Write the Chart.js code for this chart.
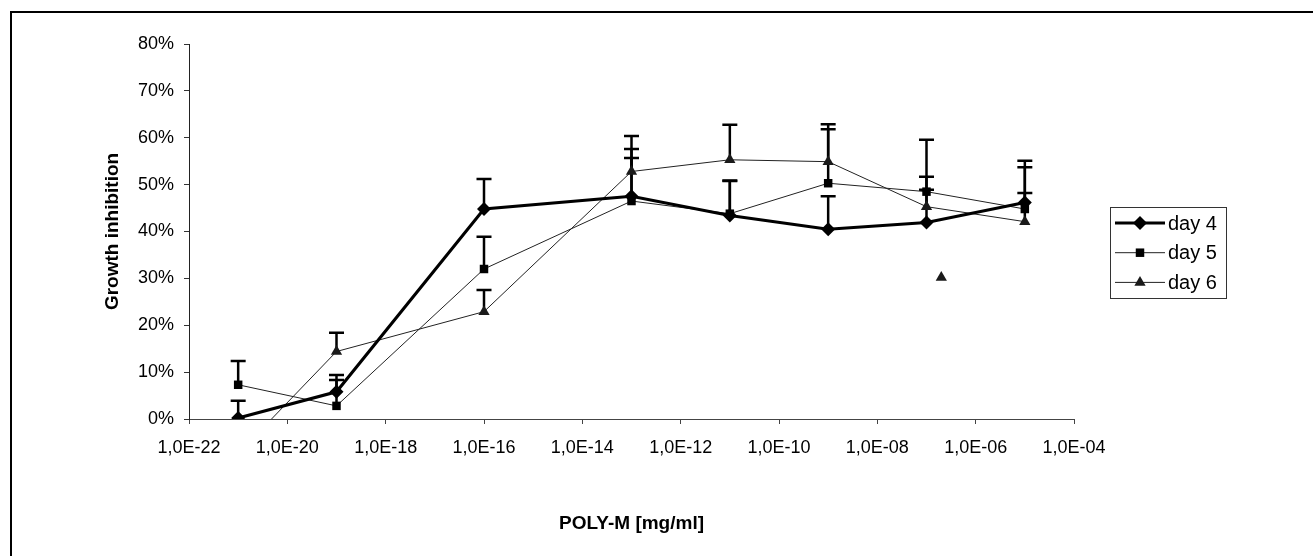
<!DOCTYPE html>
<html lang="en">
<head>
  <meta charset="UTF-8">
  <title>Growth inhibition - POLY-M</title>
  <script src="https://cdn.jsdelivr.net/npm/chart.js"></script>
  <style>
    body { margin: 0; background: #fff; }
    #wrap { position: relative; width: 1313px; height: 556px; overflow: hidden; }
    #frame { position: absolute; left: 10px; top: 11px; right: -5px; bottom: -5px; border-left: 2px solid #000; border-top: 2px solid #000; }
    canvas { position: absolute; left: 0; top: 0; }
  </style>
</head>
<body>
  <div id="wrap">
    <div id="frame"></div>
    <canvas id="chart" width="1313" height="556"></canvas>
  </div>

  <script>
    // concentrations (mg/ml)
    const concentrations = [1e-21, 1e-19, 1e-16, 1e-13, 1e-11, 1e-9, 1e-7, 1e-5];

    // growth inhibition in %, plus the upper error bar length
    const day4 = [0.2, 5.8, 44.8, 47.5, 43.4, 40.5, 41.9, 46.2];
    const day4Err = [3.7, 3.6, 6.4, 10.1, 7.5, 7.0, 7.0, 8.9];
    const day5 = [7.3, 2.8, 32.0, 46.5, 43.8, 50.3, 48.5, 44.8];
    const day5Err = [5.1, 5.5, 6.9, 9.2, 7.0, 11.5, 11.1, 8.9];
    const day6 = [-7.4, 14.4, 22.9, 52.8, 55.3, 54.9, 45.3, 42.1];
    const day6Err = [null, 4.0, 4.6, 7.6, 7.5, 8.0, 6.4, 6.1];

    // lone day 6 point that is not joined to the series
    const extraX = [2e-7];
    const extraY = [30.2];

    const xTickValues = [1e-22, 1e-20, 1e-18, 1e-16, 1e-14, 1e-12, 1e-10, 1e-8, 1e-6, 1e-4];
    const xTickLabels = ['1,0E-22', '1,0E-20', '1,0E-18', '1,0E-16', '1,0E-14',
                         '1,0E-12', '1,0E-10', '1,0E-08', '1,0E-06', '1,0E-04'];

    const FONT = 'Arial, "Liberation Sans", sans-serif';

    function points(xs, ys) {
      return xs.map((x, i) => ({ x, y: ys[i] }));
    }

    // upward-only error bars like the Excel original
    const errorBars = {
      id: 'errorBars',
      beforeDatasetsDraw(chart) {
        const { ctx, chartArea, scales } = chart;
        ctx.save();
        ctx.beginPath();
        ctx.rect(chartArea.left, chartArea.top, chartArea.width, chartArea.height);
        ctx.clip();
        ctx.strokeStyle = '#000';
        ctx.lineWidth = 2.5;
        chart.data.datasets.forEach(ds => {
          if (!ds.errPlus) return;
          ds.data.forEach((p, i) => {
            const e = ds.errPlus[i];
            if (e == null) return;
            const px = scales.x.getPixelForValue(p.x);
            const y0 = scales.y.getPixelForValue(p.y);
            const y1 = scales.y.getPixelForValue(p.y + e);
            ctx.beginPath();
            ctx.moveTo(px, y0);
            ctx.lineTo(px, y1);
            ctx.moveTo(px - 7.5, y1);
            ctx.lineTo(px + 7.5, y1);
            ctx.stroke();
          });
        });
        ctx.restore();
      }
    };

    function drawMarker(ctx, style, x, y, r) {
      ctx.beginPath();
      if (style === 'rectRot') {
        ctx.moveTo(x - r, y); ctx.lineTo(x, y - r); ctx.lineTo(x + r, y); ctx.lineTo(x, y + r);
      } else if (style === 'rect') {
        const s = Math.SQRT1_2 * r;
        ctx.rect(x - s, y - s, 2 * s, 2 * s);
      } else {
        const a = Math.PI * 2 / 3;
        for (let k = 0; k < 3; k++) {
          const px = x + Math.sin(k * a) * r, py = y - Math.cos(k * a) * r;
          k ? ctx.lineTo(px, py) : ctx.moveTo(px, py);
        }
      }
      ctx.closePath();
      ctx.fill();
    }

    // legend box sitting to the right of the plot
    const boxLegend = {
      id: 'boxLegend',
      afterDraw(chart) {
        const ctx = chart.ctx;
        const left = 1110, top = 207, w = 116, h = 91;
        ctx.save();
        ctx.strokeStyle = '#333';
        ctx.lineWidth = 1;
        ctx.strokeRect(left + 0.5, top + 0.5, w, h);
        ctx.font = '20px ' + FONT;
        ctx.textBaseline = 'middle';
        chart.data.datasets.slice(0, 3).forEach((ds, i) => {
          const y = top + 16 + i * 29.7;
          ctx.strokeStyle = ds.borderColor;
          ctx.lineWidth = ds.borderWidth;
          ctx.beginPath();
          ctx.moveTo(left + 5, y);
          ctx.lineTo(left + 55, y);
          ctx.stroke();
          ctx.fillStyle = ds.pointBackgroundColor;
          drawMarker(ctx, ds.pointStyle, left + 30, y, ds.pointRadius);
          ctx.fillStyle = '#000';
          ctx.fillText(ds.label, left + 58, y + 1);
        });
        ctx.restore();
      }
    };

    new Chart(document.getElementById('chart'), {
      type: 'scatter',
      data: {
        datasets: [
          {
            label: 'day 4',
            data: points(concentrations, day4),
            errPlus: day4Err,
            showLine: true,
            borderColor: '#000',
            borderWidth: 3,
            pointStyle: 'rectRot',
            pointRadius: 7,
            pointBackgroundColor: '#000',
            pointBorderWidth: 0
          },
          {
            label: 'day 5',
            data: points(concentrations, day5),
            errPlus: day5Err,
            showLine: true,
            borderColor: '#222',
            borderWidth: 1,
            pointStyle: 'rect',
            pointRadius: 6,
            pointBackgroundColor: '#000',
            pointBorderWidth: 0
          },
          {
            label: 'day 6',
            data: points(concentrations, day6),
            errPlus: day6Err,
            showLine: true,
            borderColor: '#222',
            borderWidth: 1,
            pointStyle: 'triangle',
            pointRadius: 6.5,
            pointBackgroundColor: '#1a1a1a',
            pointBorderWidth: 0
          },
          {
            label: '',
            data: points(extraX, extraY),
            showLine: false,
            pointStyle: 'triangle',
            pointRadius: 6.5,
            pointBackgroundColor: '#1a1a1a',
            pointBorderWidth: 0
          }
        ]
      },
      options: {
        responsive: false,
        animation: false,
        layout: { padding: { left: 0, top: 44, right: 239, bottom: 0 } },
        plugins: {
          legend: { display: false },
          tooltip: { enabled: false }
        },
        scales: {
          x: {
            type: 'logarithmic',
            min: 1e-22,
            max: 1e-4,
            afterBuildTicks: scale => { scale.ticks = xTickValues.map(v => ({ value: v })); },
            afterFit: scale => { scale.height = 137; },
            ticks: {
              autoSkip: false,
              maxRotation: 0,
              padding: 13,
              color: '#000',
              font: { family: FONT, size: 18 },
              callback: (v, i) => xTickLabels[i]
            },
            grid: { drawOnChartArea: false, drawTicks: true, tickLength: 5, color: '#444' },
            border: { color: '#444', width: 1 },
            title: {
              display: true,
              text: 'POLY-M [mg/ml]',
              color: '#000',
              font: { family: FONT, size: 19, weight: 'bold' },
              padding: { top: 0, bottom: 21 }
            }
          },
          y: {
            min: 0,
            max: 80,
            afterFit: scale => { scale.width = 189; },
            ticks: {
              stepSize: 10,
              padding: 10,
              color: '#000',
              font: { family: FONT, size: 18 },
              callback: v => v + '%'
            },
            grid: { drawOnChartArea: false, drawTicks: true, tickLength: 5, color: '#333' },
            border: { color: '#222', width: 1 },
            title: {
              display: true,
              text: 'Growth inhibition',
              color: '#000',
              font: { family: FONT, size: 19, weight: 'bold' },
              padding: { top: 101, bottom: 0 }
            }
          }
        }
      },
      plugins: [errorBars, boxLegend]
    });
  </script>
</body>
</html>
